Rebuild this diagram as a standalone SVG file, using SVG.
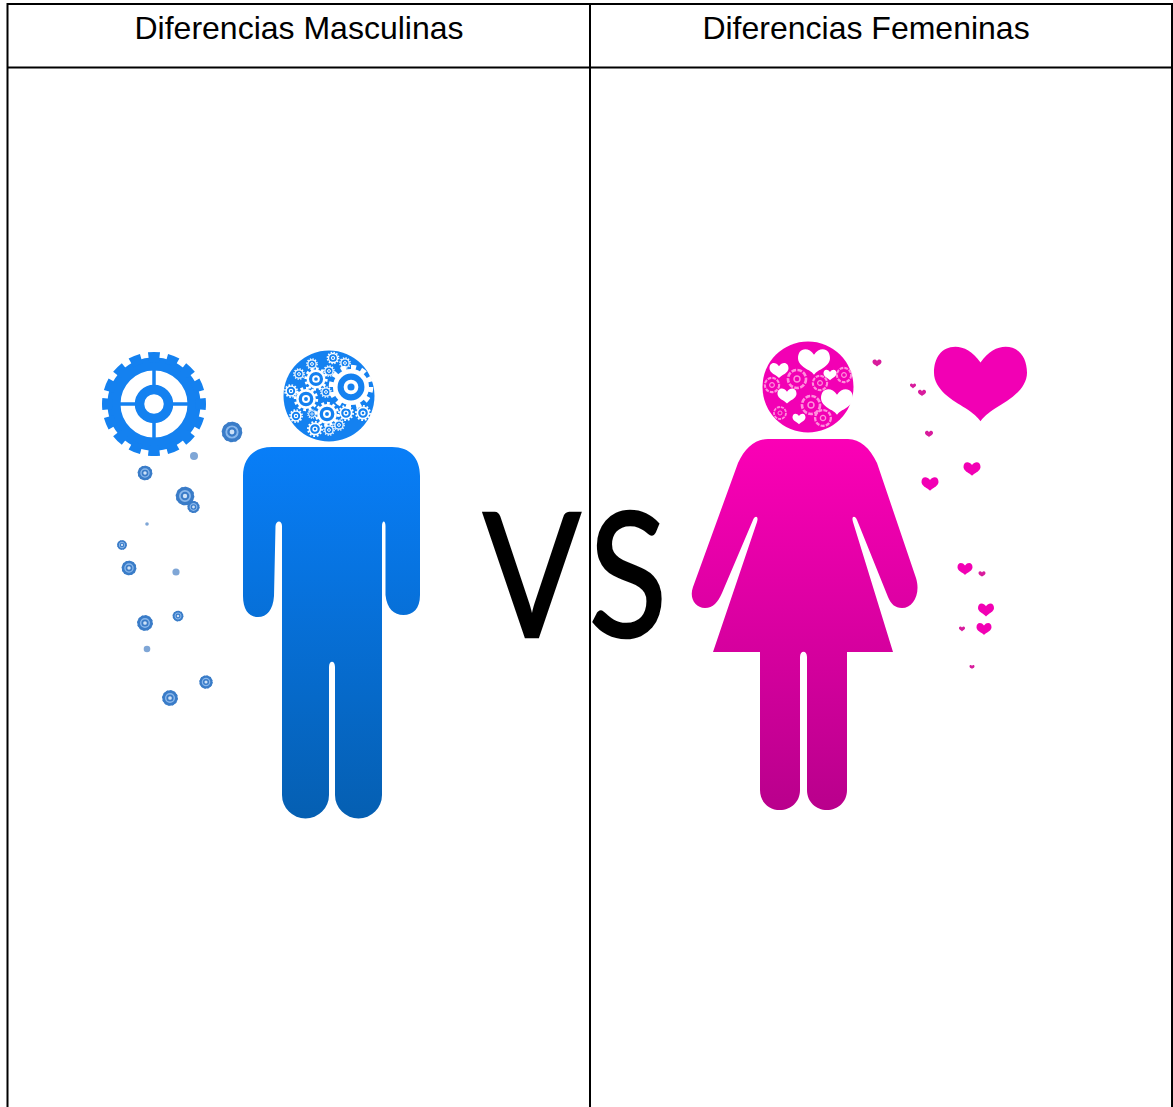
<svg xmlns="http://www.w3.org/2000/svg" xmlns:xlink="http://www.w3.org/1999/xlink" width="1173" height="1107" viewBox="0 0 1173 1107">
<style>
.rule{stroke:#000;stroke-width:2;fill:none}
.hd{font-family:"Liberation Sans",Arial,sans-serif;font-size:32px;fill:#000;text-anchor:middle}
.vs{font-family:Lato,"Liberation Sans",sans-serif;font-size:172px;fill:#000;stroke:#000;stroke-width:2.5}
.gb{fill:#1481f0}
.pk{fill:#f200b4}
.pd{fill:#d81a9c}
.wh{fill:#fff}
.bl{filter:url(#soft)}
</style>
<defs>
<filter id="soft" x="-20%" y="-20%" width="140%" height="140%"><feGaussianBlur stdDeviation="0.6"/></filter>
<linearGradient id="mg" gradientUnits="userSpaceOnUse" x1="0" y1="447" x2="0" y2="818"><stop offset="0" stop-color="#087ef8"/><stop offset="1" stop-color="#055fb2"/></linearGradient>
<linearGradient id="fg" gradientUnits="userSpaceOnUse" x1="0" y1="439" x2="0" y2="810"><stop offset="0" stop-color="#fb00b6"/><stop offset="1" stop-color="#b9008c"/></linearGradient>
<g id="gear" fill="none" stroke="currentColor">
<circle r="40" stroke-width="13"/>
<circle r="47" stroke-width="10" pathLength="32" stroke-dasharray="1.200 .8" stroke-dashoffset=".6"/>
<circle r="14.500" stroke-width="9.500"/>
<path d="M0-36V-18M0 18V36M-36 0H-18M18 0H36" stroke-width="3.500"/>
</g>
<g id="wg" fill="none" stroke="#fff">
<circle r="7.500" stroke-width="2.200"/>
<circle r="9.400" stroke-width="2.400" pathLength="24" stroke-dasharray="1 1"/>
<circle r="2.600" stroke-width="1.800"/>
</g>
<g id="mini">
<circle r="8" fill="#8ab8ec" stroke="#3a7cc8" stroke-width="3.400"/>
<circle r="8.800" fill="none" stroke="#3a7cc8" stroke-width="2" pathLength="24" stroke-dasharray="1 1"/>
<circle r="3.400" fill="#cfe2f7" stroke="#3a7cc8" stroke-width="2.200"/>
</g>
<circle id="dot" r="1" fill="#7fa6d6"/>
<path id="heart" d="M0-23C-8-35-18-40-27-40C-42-40-50-28-50-12C-50 6-30 18-16 26C-8 31-3 36 0 40C3 36 8 31 16 26C30 18 50 6 50-12C50-28 42-40 27-40C18-40 8-35 0-23Z"/>
<g id="flower" fill="none" stroke="#ff8fdc">
<circle r="7.500" stroke-width="2.200" pathLength="12" stroke-dasharray="1 .3"/>
<circle r="2.500" stroke-width="1.200"/>
</g>
</defs>
<rect width="1173" height="1107" fill="#fff"/>
<g id="table">
<path class="rule" d="M7.500 1107V4H1172V1107M7.500 67.500H1172M590 4V1107"/>
</g>
<g id="header-male"><text class="hd" x="299" y="39">Diferencias Masculinas</text></g>
<g id="header-female"><text class="hd" x="866" y="39">Diferencias Femeninas</text></g>
<g id="big-gear" color="#1481f0"><use href="#gear" transform="translate(154 404)"/></g>
<g id="small-gears" class="bl">
<use href="#mini" transform="translate(232 432) scale(1.05)"/>
<use href="#mini" transform="translate(145 473) scale(.75)"/>
<use href="#mini" transform="translate(185 496) scale(.95)"/>
<use href="#mini" transform="translate(193.500 507) scale(.62)"/>
<use href="#mini" transform="translate(122 545) scale(.5)"/>
<use href="#mini" transform="translate(129 568) scale(.75)"/>
<use href="#mini" transform="translate(178 616) scale(.55)"/>
<use href="#mini" transform="translate(145 623) scale(.8)"/>
<use href="#mini" transform="translate(206 682) scale(.68)"/>
<use href="#mini" transform="translate(170 698) scale(.8)"/>
<use href="#dot" transform="translate(194 456) scale(4)"/>
<use href="#dot" transform="translate(147 524) scale(1.800)"/>
<use href="#dot" transform="translate(176 572) scale(3.600)"/>
<use href="#dot" transform="translate(147 649) scale(3.300)"/>
</g>
<g id="male-head">
<circle class="gb" cx="329" cy="396" r="45.500"/>
<g class="bl">
<use href="#wg" transform="translate(351 387) scale(2.1)"/>
<use href="#wg" transform="translate(316 379) scale(1.1)"/>
<use href="#wg" transform="translate(306 399) scale(1.15)"/>
<use href="#wg" transform="translate(327 414) scale(1.15)"/>
<use href="#wg" transform="translate(346 413) scale(.75)"/>
<use href="#wg" transform="translate(363 413) scale(.75)"/>
<use href="#wg" transform="translate(315 429) scale(.75)"/>
<use href="#wg" transform="translate(329 430) scale(.55)"/>
<use href="#wg" transform="translate(339 425) scale(.55)"/>
<use href="#wg" transform="translate(296 416) scale(.65)"/>
<use href="#wg" transform="translate(291 391) scale(.65)"/>
<use href="#wg" transform="translate(299 374) scale(.55)"/>
<use href="#wg" transform="translate(312 364) scale(.55)"/>
<use href="#wg" transform="translate(333 358) scale(.6)"/>
<use href="#wg" transform="translate(345 363) scale(.55)"/>
<use href="#wg" transform="translate(329 371) scale(.55)"/>
<use href="#wg" transform="translate(326 392) scale(.55)"/>
<use href="#wg" transform="translate(312 414) scale(.45)"/>
</g>
</g>
<g id="male-body">
<path fill="url(#mg)" d="M272 447H392C410 447 420 458 420 476V595C420 609 413 615 403.500 615C394 615 387 609 385.500 595V526C385.500 520 382 520 382 526V795A23.500 23.500 0 0 1 335 795V667C335 660 329 660 329 667V795A23.500 23.500 0 0 1 282 795V526C282 520 276 520 275.500 526L274 596C273 610 267 617 258 617C249 617 243 610 243 596V476C243 458 254 447 272 447Z"/>
</g>
<g id="vs"><text class="vs" transform="translate(483 637) scale(.84 1)" x="0 126" y="0">VS</text></g>
<g id="female-head">
<circle class="pk" cx="808" cy="387" r="45.500"/>
<g class="bl">
<use href="#flower" transform="translate(797 379) scale(1.2)"/>
<use href="#flower" transform="translate(772 385) scale(.95)"/>
<use href="#flower" transform="translate(820 383) scale(.95)"/>
<use href="#flower" transform="translate(844 375) scale(.95)"/>
<use href="#flower" transform="translate(811 405) scale(1.2)"/>
<use href="#flower" transform="translate(823 418) scale(1.05)"/>
<use href="#flower" transform="translate(780 413) scale(.8)"/>
<use class="wh" href="#heart" transform="translate(814 362) scale(.32)"/>
<use class="wh" href="#heart" transform="translate(837 402) scale(.32)"/>
<use class="wh" href="#heart" transform="translate(779 370.500) scale(.19)"/>
<use class="wh" href="#heart" transform="translate(787 396) scale(.19)"/>
<use class="wh" href="#heart" transform="translate(830 375) scale(.13)"/>
<use class="wh" href="#heart" transform="translate(799 419) scale(.13)"/>
</g>
</g>
<g id="female-body">
<path fill="url(#fg)" d="M768 439H848C860 439 870 448 877 463L916 578C921 594 913 608 902 608C895 608 891 604 888 597L857 520C855 515 851 516 853 522L893 652H847V790C847 802 838 810 827 810C816 810 807 802 807 790V657C807 650 800 650 800 657V790C800 802 791 810 780 810C769 810 760 802 760 790V652H713L757 522C759 516 755 515 753 520L722 593C718 602 713 608 705 608C695 608 689 598 693 587L738 463C745 448 755 439 768 439Z"/>
</g>
<g id="big-heart"><use class="pk" href="#heart" transform="translate(980.500 384) scale(.93)"/></g>
<g id="small-hearts" class="bl">
<use class="pd" href="#heart" transform="translate(877 363) scale(.09)"/>
<use class="pd" href="#heart" transform="translate(913 386) scale(.06)"/>
<use class="pd" href="#heart" transform="translate(922 393) scale(.08)"/>
<use class="pd" href="#heart" transform="translate(929 434) scale(.08)"/>
<use class="pk" href="#heart" transform="translate(972 469) scale(.17)"/>
<use class="pk" href="#heart" transform="translate(930 484) scale(.17)"/>
<use class="pk" href="#heart" transform="translate(965 569) scale(.15)"/>
<use class="pd" href="#heart" transform="translate(982 574) scale(.07)"/>
<use class="pk" href="#heart" transform="translate(986 610) scale(.16)"/>
<use class="pk" href="#heart" transform="translate(984 629) scale(.15)"/>
<use class="pd" href="#heart" transform="translate(962 629) scale(.06)"/>
<use class="pd" href="#heart" transform="translate(972 667) scale(.05)"/>
</g>
</svg>
